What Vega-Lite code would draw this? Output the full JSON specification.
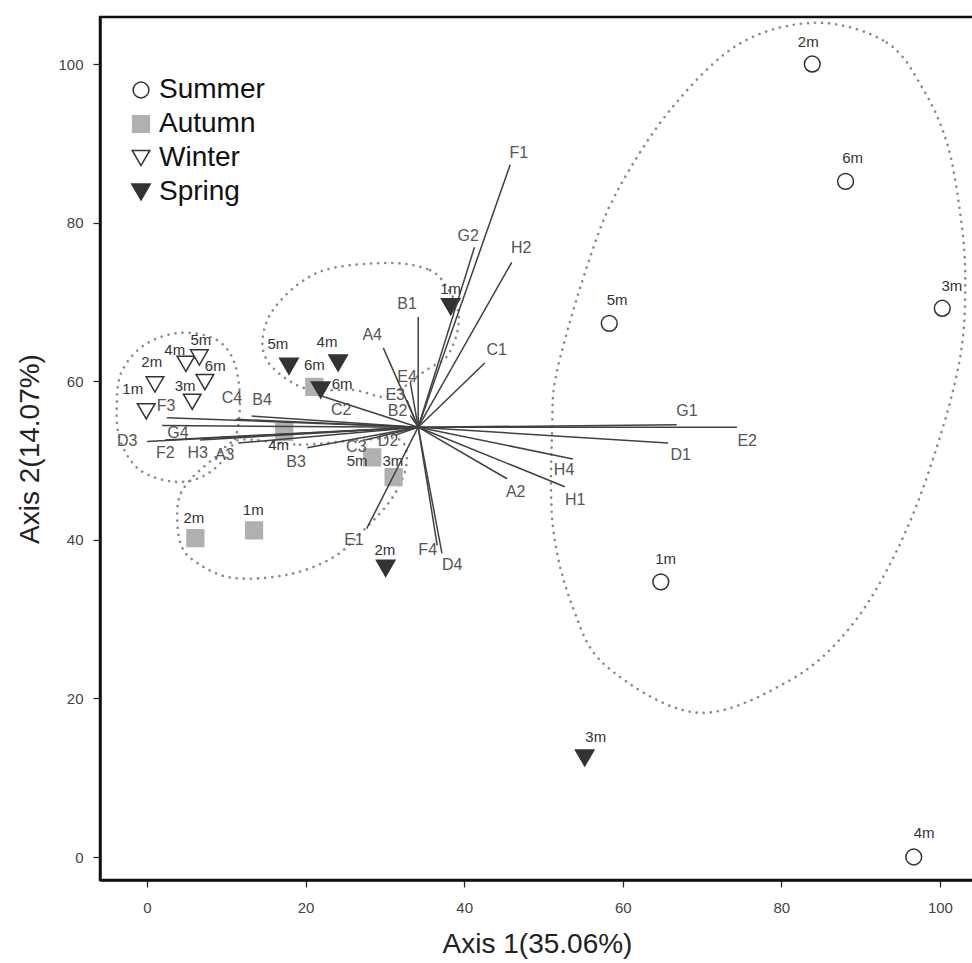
{
  "$schema": "https://vega.github.io/schema/vega-lite/v6.json",
  "width": 874,
  "height": 863,
  "autosize": {"type": "none"},
  "padding": {"left": 100, "top": 17, "right": 0, "bottom": 83},
  "config": {
    "font": "Liberation Sans",
    "view": {"stroke": "#111", "strokeWidth": 2.5},
    "axis": {
      "grid": false,
      "domainColor": "#111",
      "domainWidth": 2.5,
      "tickColor": "#222",
      "tickWidth": 1.2,
      "tickSize": 7,
      "labelFont": "Liberation Sans",
      "labelFontSize": 15,
      "labelColor": "#444",
      "titleFont": "Liberation Sans",
      "titleFontSize": 28,
      "titleFontWeight": "normal",
      "titleColor": "#222"
    }
  },
  "datasets": {
    "pts": [
      {"season": "Summer", "name": "2m", "x": 83.9, "y": 100.0, "lx": 83.4, "ly": 102.8},
      {"season": "Summer", "name": "6m", "x": 88.1, "y": 85.2, "lx": 89.0, "ly": 88.1},
      {"season": "Summer", "name": "3m", "x": 100.3, "y": 69.2, "lx": 101.5, "ly": 72.0},
      {"season": "Summer", "name": "5m", "x": 58.3, "y": 67.3, "lx": 59.3, "ly": 70.2},
      {"season": "Summer", "name": "1m", "x": 64.8, "y": 34.7, "lx": 65.4, "ly": 37.6},
      {"season": "Summer", "name": "4m", "x": 96.7, "y": 0.0, "lx": 98.0, "ly": 3.0},
      {"season": "Autumn", "name": "2m", "x": 6.1, "y": 40.2, "lx": 5.9, "ly": 42.7},
      {"season": "Autumn", "name": "1m", "x": 13.5, "y": 41.2, "lx": 13.4, "ly": 43.8},
      {"season": "Autumn", "name": "3m", "x": 31.1, "y": 47.9, "lx": 31.0, "ly": 49.9},
      {"season": "Autumn", "name": "5m", "x": 28.4, "y": 50.4, "lx": 26.5, "ly": 50.0},
      {"season": "Autumn", "name": "4m", "x": 17.3, "y": 53.6, "lx": 16.6, "ly": 52.0},
      {"season": "Autumn", "name": "6m", "x": 21.1, "y": 59.3, "lx": 24.6, "ly": 59.6},
      {"season": "Winter", "name": "1m", "x": -0.1, "y": 56.2, "lx": -1.8, "ly": 59.0},
      {"season": "Winter", "name": "2m", "x": 1.0, "y": 59.6, "lx": 0.6, "ly": 62.4},
      {"season": "Winter", "name": "4m", "x": 4.9, "y": 62.2, "lx": 3.5, "ly": 63.9},
      {"season": "Winter", "name": "5m", "x": 6.6, "y": 63.0, "lx": 6.8, "ly": 65.2},
      {"season": "Winter", "name": "6m", "x": 7.3, "y": 59.9, "lx": 8.6, "ly": 61.9},
      {"season": "Winter", "name": "3m", "x": 5.7, "y": 57.4, "lx": 4.8, "ly": 59.4},
      {"season": "Spring", "name": "1m", "x": 38.3, "y": 69.4, "lx": 38.3, "ly": 71.6},
      {"season": "Spring", "name": "5m", "x": 17.9, "y": 61.9, "lx": 16.5, "ly": 64.7},
      {"season": "Spring", "name": "4m", "x": 24.1, "y": 62.3, "lx": 22.7, "ly": 64.9},
      {"season": "Spring", "name": "6m", "x": 21.9, "y": 58.9, "lx": 21.1, "ly": 62.0},
      {"season": "Spring", "name": "2m", "x": 30.1, "y": 36.4, "lx": 30.0, "ly": 38.7},
      {"season": "Spring", "name": "3m", "x": 55.2, "y": 12.5, "lx": 56.6, "ly": 15.1}
    ],
    "vec": [
      {"v": "F1", "x0": 34.2, "y0": 54.2, "x": 45.8, "y": 87.3, "lx": 46.9, "ly": 88.8},
      {"v": "G2", "x0": 34.2, "y0": 54.2, "x": 41.3, "y": 76.9, "lx": 40.5, "ly": 78.3},
      {"v": "H2", "x0": 34.2, "y0": 54.2, "x": 46.0, "y": 75.0, "lx": 47.2, "ly": 76.8},
      {"v": "C1", "x0": 34.2, "y0": 54.2, "x": 42.6, "y": 62.3, "lx": 44.1, "ly": 63.9},
      {"v": "B1", "x0": 34.2, "y0": 54.2, "x": 34.2, "y": 68.1, "lx": 32.8, "ly": 69.7},
      {"v": "A4", "x0": 34.2, "y0": 54.2, "x": 29.8, "y": 64.2, "lx": 28.4, "ly": 65.8},
      {"v": "E4", "x0": 34.2, "y0": 54.2, "x": 33.2, "y": 59.9, "lx": 32.8, "ly": 60.5},
      {"v": "E3", "x0": 34.2, "y0": 54.2, "x": 32.8, "y": 57.6, "lx": 31.3, "ly": 58.2},
      {"v": "B2", "x0": 34.2, "y0": 54.2, "x": 33.2, "y": 55.7, "lx": 31.6, "ly": 56.3},
      {"v": "C2", "x0": 34.2, "y0": 54.2, "x": 22.1, "y": 58.1, "lx": 24.5, "ly": 56.4},
      {"v": "B4", "x0": 34.2, "y0": 54.2, "x": 13.2, "y": 55.6, "lx": 14.5, "ly": 57.6},
      {"v": "C4", "x0": 34.2, "y0": 54.2, "x": 11.2, "y": 55.2, "lx": 10.7, "ly": 57.9},
      {"v": "F3", "x0": 34.2, "y0": 54.2, "x": 2.5, "y": 55.4, "lx": 2.4, "ly": 56.9},
      {"v": "G4", "x0": 34.2, "y0": 54.2, "x": 1.9, "y": 54.4, "lx": 3.9, "ly": 53.5},
      {"v": "D3", "x0": 34.2, "y0": 54.2, "x": 0.0, "y": 52.4, "lx": -2.5, "ly": 52.5},
      {"v": "F2", "x0": 34.2, "y0": 54.2, "x": 2.3, "y": 52.6, "lx": 2.3, "ly": 50.9},
      {"v": "H3", "x0": 34.2, "y0": 54.2, "x": 6.7, "y": 52.6, "lx": 6.4, "ly": 50.9},
      {"v": "A3", "x0": 34.2, "y0": 54.2, "x": 11.5, "y": 52.2, "lx": 9.8, "ly": 50.7},
      {"v": "B3", "x0": 34.2, "y0": 54.2, "x": 20.2, "y": 51.6, "lx": 18.8, "ly": 49.8},
      {"v": "C3", "x0": 34.2, "y0": 54.2, "x": 27.5, "y": 52.6, "lx": 26.4, "ly": 51.7},
      {"v": "D2", "x0": 34.2, "y0": 54.2, "x": 31.3, "y": 53.2, "lx": 30.4, "ly": 52.5},
      {"v": "G1", "x0": 34.2, "y0": 54.2, "x": 66.8, "y": 54.5, "lx": 68.1, "ly": 56.2},
      {"v": "E2", "x0": 34.2, "y0": 54.2, "x": 74.4, "y": 54.2, "lx": 75.7, "ly": 52.5},
      {"v": "D1", "x0": 34.2, "y0": 54.2, "x": 65.7, "y": 52.2, "lx": 67.3, "ly": 50.7},
      {"v": "H4", "x0": 34.2, "y0": 54.2, "x": 53.7, "y": 50.2, "lx": 52.6, "ly": 48.8},
      {"v": "H1", "x0": 34.2, "y0": 54.2, "x": 52.7, "y": 46.7, "lx": 54.0, "ly": 45.0},
      {"v": "A2", "x0": 34.2, "y0": 54.2, "x": 45.4, "y": 47.7, "lx": 46.5, "ly": 46.0},
      {"v": "F4", "x0": 34.2, "y0": 54.2, "x": 36.6, "y": 39.3, "lx": 35.4, "ly": 38.7},
      {"v": "D4", "x0": 34.2, "y0": 54.2, "x": 37.2, "y": 38.3, "lx": 38.5, "ly": 36.8},
      {"v": "E1", "x0": 34.2, "y0": 54.2, "x": 27.7, "y": 41.4, "lx": 26.1, "ly": 40.0}
    ],
    "ell": [
      {"g": "summer", "o": 1, "x": 84.5, "y": 105.2},
      {"g": "summer", "o": 2, "x": 93.3, "y": 102.7},
      {"g": "summer", "o": 3, "x": 97.9, "y": 96.8},
      {"g": "summer", "o": 4, "x": 100.9, "y": 90.0},
      {"g": "summer", "o": 5, "x": 102.5, "y": 81.6},
      {"g": "summer", "o": 6, "x": 103.2, "y": 73.1},
      {"g": "summer", "o": 7, "x": 102.5, "y": 62.7},
      {"g": "summer", "o": 8, "x": 99.1, "y": 50.1},
      {"g": "summer", "o": 9, "x": 94.6, "y": 38.7},
      {"g": "summer", "o": 10, "x": 88.7, "y": 29.0},
      {"g": "summer", "o": 11, "x": 81.1, "y": 22.3},
      {"g": "summer", "o": 12, "x": 69.4, "y": 18.2},
      {"g": "summer", "o": 13, "x": 58.0, "y": 24.0},
      {"g": "summer", "o": 14, "x": 53.7, "y": 31.5},
      {"g": "summer", "o": 15, "x": 51.2, "y": 41.6},
      {"g": "summer", "o": 16, "x": 51.1, "y": 54.2},
      {"g": "summer", "o": 17, "x": 51.8, "y": 61.7},
      {"g": "summer", "o": 18, "x": 55.9, "y": 75.7},
      {"g": "summer", "o": 19, "x": 59.6, "y": 84.5},
      {"g": "summer", "o": 20, "x": 66.3, "y": 94.6},
      {"g": "summer", "o": 21, "x": 74.8, "y": 102.6},
      {"g": "winter", "o": 1, "x": 4.2, "y": 66.1},
      {"g": "winter", "o": 2, "x": 8.8, "y": 65.2},
      {"g": "winter", "o": 3, "x": 11.1, "y": 62.1},
      {"g": "winter", "o": 4, "x": 11.7, "y": 56.7},
      {"g": "winter", "o": 5, "x": 10.8, "y": 52.0},
      {"g": "winter", "o": 6, "x": 7.9, "y": 48.5},
      {"g": "winter", "o": 7, "x": 3.8, "y": 47.3},
      {"g": "winter", "o": 8, "x": -0.9, "y": 48.8},
      {"g": "winter", "o": 9, "x": -3.4, "y": 52.6},
      {"g": "winter", "o": 10, "x": -3.8, "y": 57.0},
      {"g": "winter", "o": 11, "x": -3.2, "y": 61.2},
      {"g": "winter", "o": 12, "x": -0.3, "y": 64.6},
      {"g": "spring", "o": 1, "x": 31.0, "y": 74.9},
      {"g": "spring", "o": 2, "x": 35.7, "y": 74.0},
      {"g": "spring", "o": 3, "x": 37.8, "y": 71.9},
      {"g": "spring", "o": 4, "x": 39.2, "y": 69.0},
      {"g": "spring", "o": 5, "x": 39.1, "y": 66.1},
      {"g": "spring", "o": 6, "x": 37.8, "y": 63.1},
      {"g": "spring", "o": 7, "x": 35.7, "y": 61.7},
      {"g": "spring", "o": 8, "x": 33.8, "y": 60.4},
      {"g": "spring", "o": 9, "x": 31.9, "y": 58.9},
      {"g": "spring", "o": 10, "x": 29.8, "y": 58.0},
      {"g": "spring", "o": 11, "x": 26.0, "y": 58.9},
      {"g": "spring", "o": 12, "x": 20.9, "y": 58.9},
      {"g": "spring", "o": 13, "x": 17.7, "y": 60.2},
      {"g": "spring", "o": 14, "x": 15.1, "y": 62.7},
      {"g": "spring", "o": 15, "x": 14.6, "y": 65.6},
      {"g": "spring", "o": 16, "x": 15.9, "y": 69.0},
      {"g": "spring", "o": 17, "x": 19.3, "y": 72.4},
      {"g": "spring", "o": 18, "x": 23.5, "y": 74.3},
      {"g": "autumn", "o": 1, "x": 11.7, "y": 52.6},
      {"g": "autumn", "o": 2, "x": 19.3, "y": 52.0},
      {"g": "autumn", "o": 3, "x": 26.9, "y": 52.6},
      {"g": "autumn", "o": 4, "x": 31.9, "y": 52.6},
      {"g": "autumn", "o": 5, "x": 32.7, "y": 49.4},
      {"g": "autumn", "o": 6, "x": 31.0, "y": 45.4},
      {"g": "autumn", "o": 7, "x": 27.7, "y": 41.6},
      {"g": "autumn", "o": 8, "x": 23.5, "y": 37.8},
      {"g": "autumn", "o": 9, "x": 17.7, "y": 35.6},
      {"g": "autumn", "o": 10, "x": 10.8, "y": 35.2},
      {"g": "autumn", "o": 11, "x": 6.3, "y": 37.1},
      {"g": "autumn", "o": 12, "x": 4.2, "y": 39.6},
      {"g": "autumn", "o": 13, "x": 3.9, "y": 44.6},
      {"g": "autumn", "o": 14, "x": 5.4, "y": 47.5},
      {"g": "autumn", "o": 15, "x": 8.6, "y": 50.4}
    ]
  },
  "layer": [
    {
      "data": {"name": "ell"},
      "mark": {"type": "line", "interpolate": "cardinal-closed", "stroke": "#8a8a8a", "strokeWidth": 2.6, "strokeDash": [0.1, 7], "strokeCap": "round", "clip": true},
      "encoding": {
        "x": {"field": "x", "type": "quantitative", "scale": {"domain": [-5.93, 104.3], "nice": false, "zero": false}, "axis": {"title": "Axis 1(35.06%)", "values": [0, 20, 40, 60, 80, 100], "labelPadding": 13, "titlePadding": 15}},
        "y": {"field": "y", "type": "quantitative", "scale": {"domain": [-2.9, 105.93], "nice": false, "zero": false}, "axis": {"title": "Axis 2(14.07%)", "values": [0, 20, 40, 60, 80, 100], "labelPadding": 10, "titlePadding": 13}},
        "detail": {"field": "g"},
        "order": {"field": "o", "type": "quantitative"}
      }
    },
    {
      "data": {"name": "pts"},
      "mark": {"type": "point", "filled": false, "strokeWidth": 1.5, "opacity": 1},
      "encoding": {
        "x": {"field": "x", "type": "quantitative"},
        "y": {"field": "y", "type": "quantitative"},
        "shape": {"field": "season", "type": "nominal", "scale": {"domain": ["Summer", "Autumn", "Winter", "Spring"], "range": ["circle", "square", "triangle-down", "triangle-down"]},
          "legend": {"title": null, "orient": "none", "legendX": 27, "legendY": 59, "labelFontSize": 28, "labelColor": "#111", "labelFont": "Liberation Sans", "symbolStrokeWidth": 1.5, "rowPadding": 6, "labelOffset": 4}},
        "size": {"field": "season", "type": "nominal", "scale": {"domain": ["Summer", "Autumn", "Winter", "Spring"], "range": [250, 340, 240, 280]}},
        "fill": {"field": "season", "type": "nominal", "scale": {"domain": ["Summer", "Autumn", "Winter", "Spring"], "range": ["#ffffff", "#b0b0b0", "#ffffff", "#333333"]}},
        "stroke": {"field": "season", "type": "nominal", "scale": {"domain": ["Summer", "Autumn", "Winter", "Spring"], "range": ["#333333", "#b0b0b0", "#333333", "#333333"]}}
      }
    },
    {
      "data": {"name": "vec"},
      "mark": {"type": "rule", "stroke": "#404040", "strokeWidth": 1.5},
      "encoding": {
        "x": {"field": "x0", "type": "quantitative"},
        "y": {"field": "y0", "type": "quantitative"},
        "x2": {"field": "x"},
        "y2": {"field": "y"}
      }
    },
    {
      "data": {"name": "vec"},
      "mark": {"type": "text", "fontSize": 16, "color": "#555", "align": "center", "baseline": "middle"},
      "encoding": {
        "x": {"field": "lx", "type": "quantitative"},
        "y": {"field": "ly", "type": "quantitative"},
        "text": {"field": "v"}
      }
    },
    {
      "data": {"name": "pts"},
      "mark": {"type": "text", "fontSize": 15, "color": "#333", "align": "center", "baseline": "middle"},
      "encoding": {
        "x": {"field": "lx", "type": "quantitative"},
        "y": {"field": "ly", "type": "quantitative"},
        "text": {"field": "name"}
      }
    }
  ]
}
